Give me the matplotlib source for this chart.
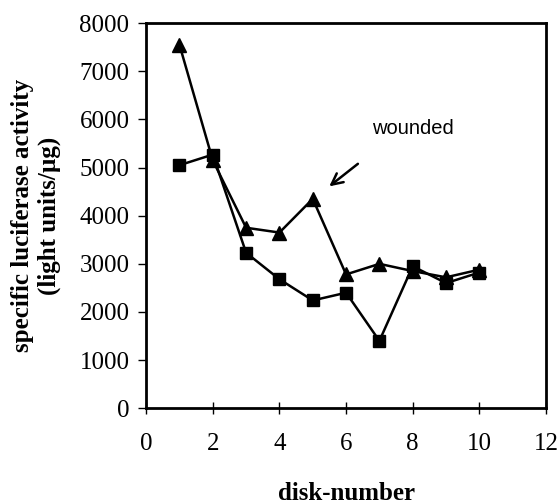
import matplotlib
matplotlib.use("Agg")
import matplotlib.pyplot as plt

disk = [1, 2, 3, 4, 5, 6, 7, 8, 9, 10]
wounded = [7550, 5150, 3750, 3650, 4350, 2780, 3000, 2850, 2720, 2880]
control = [5050, 5270, 3230, 2680, 2240, 2400, 1400, 2950, 2600, 2820]
xticks = [0, 2, 4, 6, 8, 10, 12]
yticks = [0, 1000, 2000, 3000, 4000, 5000, 6000, 7000, 8000]

plt.rcParams['font.family'] = ['Liberation Serif', 'DejaVu Serif']

fig = plt.figure(figsize=(5.6, 5.04), dpi=100)
ax = fig.add_axes([0.261, 0.190, 0.714, 0.764])

ax.plot(disk, wounded, color='black', lw=1.8, marker='^', markersize=10, zorder=3)
ax.plot(disk, control, color='black', lw=1.8, marker='s', markersize=9, zorder=3)

ax.set_xlim(0, 12)
ax.set_ylim(0, 8000)
ax.set_xticks(xticks)
ax.set_yticks(yticks)
for s in ax.spines.values():
    s.set_linewidth(2)
ax.tick_params(axis='x', direction='inout', length=8, width=1, labelsize=18, pad=14)
ax.tick_params(axis='y', direction='out', length=6, width=1, labelsize=18, pad=6)

ax.set_xlabel('disk-number', fontsize=18, fontweight='bold', labelpad=19)
ax.set_ylabel('specific luciferase activity\n(light units/µg)', fontsize=18,
              fontweight='bold', labelpad=13, linespacing=1.25)

ax.text(8.0, 5820, 'wounded', fontsize=14.5, family=['Liberation Sans', 'DejaVu Sans'],
        ha='center', va='center')
ax.annotate('', xy=(5.43, 4574), xytext=(6.42, 5114),
            arrowprops=dict(arrowstyle='->', lw=1.8, color='black', mutation_scale=20))

fig.savefig('out.png', dpi=100)
